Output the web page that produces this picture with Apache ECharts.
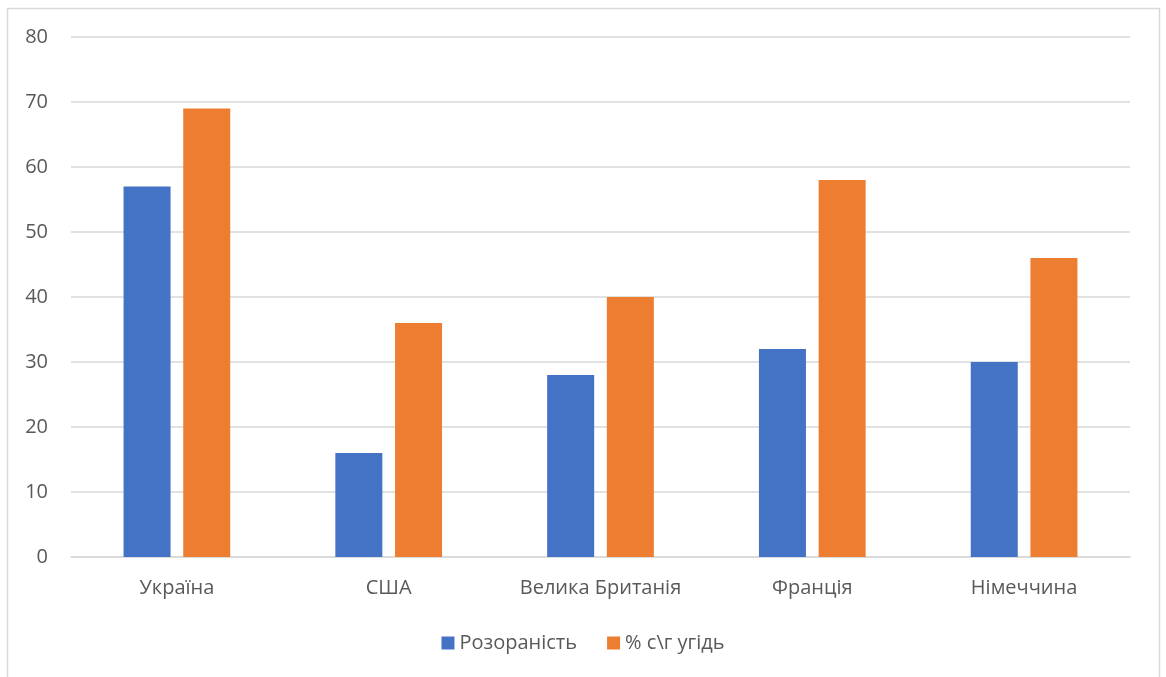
<!DOCTYPE html>
<html><head><meta charset="utf-8">
<script src="https://cdn.jsdelivr.net/npm/echarts@6/dist/echarts.min.js"></script>
<style>html,body{margin:0;padding:0;background:#fff}#c{width:1166px;height:677px}</style>
</head><body><div id="c"></div>
<script>
const categories = ['Україна', 'США', 'Велика Британія', 'Франція', 'Німеччина'];
const seriesNames = ['Розораність', '% с\\г угідь'];
const ploughed = [57, 16, 28, 32, 30];
const agriLand = [69, 36, 40, 58, 46];
const yTicks = [0, 10, 20, 30, 40, 50, 60, 70, 80];

const chart = echarts.init(document.getElementById('c'));
const font = '"Open Sans", "Noto Sans", sans-serif';
chart.setOption({
  animation: false,
  textStyle: { fontFamily: font },
  graphic: [{
    type: 'rect', shape: { x: 7.5, y: 8.5, width: 1152, height: 700 },
    style: { fill: 'none', stroke: '#d9d9d9', lineWidth: 1.5 }, silent: true
  }],
  grid: { left: 71, right: 36, top: 37, bottom: 120 },
  legend: {
    bottom: 19, left: 'center', itemWidth: 13, itemHeight: 13, itemGap: 30,
    icon: 'rect',
    textStyle: { color: '#595959', fontSize: 20, fontFamily: font },
    data: seriesNames
  },
  xAxis: {
    type: 'category', data: categories,
    axisTick: { show: false },
    axisLine: { lineStyle: { color: '#d9d9d9', width: 1.5 } },
    axisLabel: { color: '#595959', fontSize: 20, margin: 21, fontFamily: font }
  },
  yAxis: {
    type: 'value', min: yTicks[0], max: yTicks[yTicks.length - 1], interval: 10,
    axisLine: { show: false }, axisTick: { show: false },
    splitLine: { lineStyle: { color: '#d9d9d9', width: 1.5 } },
    axisLabel: { color: '#595959', fontSize: 20, margin: 23, fontFamily: font }
  },
  series: [
    { name: seriesNames[0], type: 'bar', data: ploughed, barWidth: 47, barGap: '27%', itemStyle: { color: '#4472C4' } },
    { name: seriesNames[1], type: 'bar', data: agriLand, barWidth: 47, itemStyle: { color: '#ED7D31' } }
  ]
});
</script></body></html>
